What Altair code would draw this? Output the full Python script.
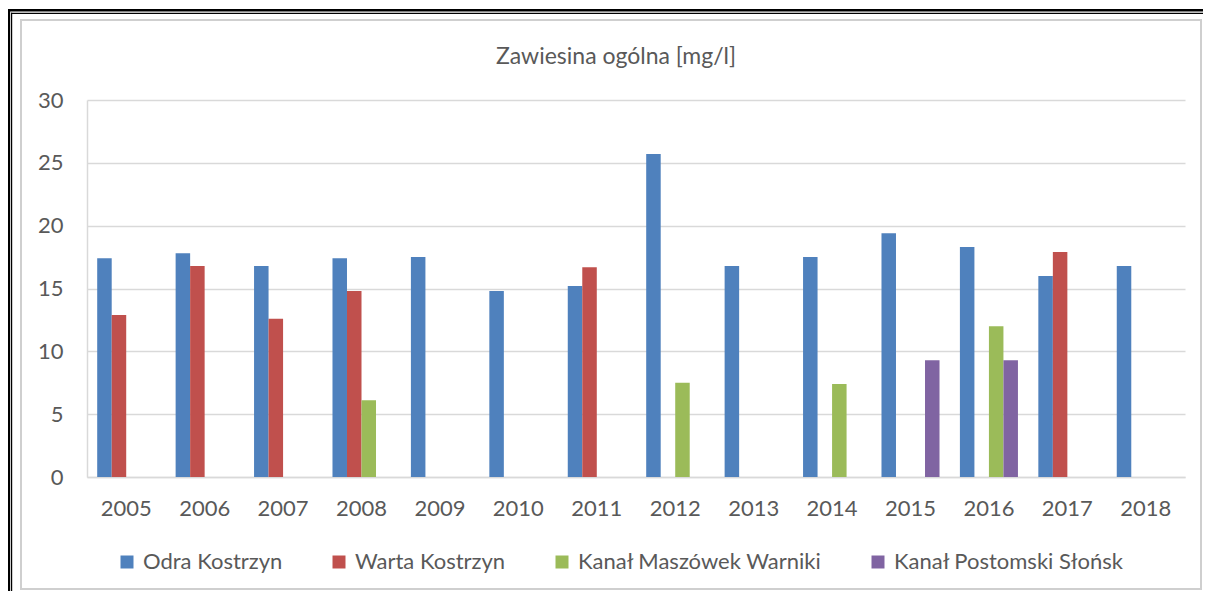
import altair as alt
import pandas as pd

years = [str(y) for y in range(2005, 2019)]
series = ["Odra Kostrzyn", "Warta Kostrzyn", "Kanał Maszówek Warniki", "Kanał Postomski Słońsk"]
odra = [17.4, 17.8, 16.8, 17.4, 17.5, 14.8, 15.2, 25.7, 16.8, 17.5, 19.4, 18.3, 16.0, 16.8]
warta = [12.9, 16.8, 12.6, 14.8, None, None, 16.7, None, None, None, None, None, 17.9, None]
maszowek = [None, None, None, 6.1, None, None, None, 7.5, None, 7.4, None, 12.0, None, None]
postomski = [None, None, None, None, None, None, None, None, None, None, 9.3, 9.3, None, None]
colors = ["#4F81BD", "#C0504D", "#9BBB59", "#8064A2"]
y_ticks = [0, 5, 10, 15, 20, 25, 30]
title_text = "Zawiesina ogólna [mg/l]"

rows = []
for name, vals in zip(series, [odra, warta, maszowek, postomski]):
    for yr, v in zip(years, vals):
        if v is not None:
            rows.append({"year": yr, "series": name, "value": v})
df = pd.DataFrame(rows)

FONT = "Lato"
TXT = "#595959"
GRID = "#D9D9D9"
FS = 22

bars = alt.Chart(df).mark_bar(stroke=None).encode(
    x=alt.X("year:N", sort=years,
            scale=alt.Scale(domain=years, paddingInner=0.26, paddingOuter=0.13),
            axis=alt.Axis(title=None, labelAngle=0, labelFontSize=FS, labelFont=FONT,
                          labelColor=TXT, ticks=False, domainColor=GRID, domainWidth=1.5,
                          labelPadding=21, grid=False)),
    xOffset=alt.XOffset("series:N", sort=series,
                        scale=alt.Scale(domain=series, paddingInner=0, paddingOuter=0)),
    y=alt.Y("value:Q",
            scale=alt.Scale(domain=[0, 30], nice=False),
            axis=alt.Axis(title=None, values=y_ticks, labelFontSize=FS, labelFont=FONT,
                          labelColor=TXT, ticks=False, domain=True, domainColor=GRID,
                          domainWidth=1.5, gridColor=GRID, gridWidth=1.5, labelPadding=24)),
    color=alt.Color("series:N", sort=series,
                    scale=alt.Scale(domain=series, range=colors),
                    legend=alt.Legend(title=None, orient="none", direction="horizontal",
                                      legendX=29, legendY=451, symbolType="square",
                                      symbolSize=169, symbolStrokeWidth=0,
                                      labelFontSize=FS, labelFont=FONT, labelColor=TXT,
                                      labelOffset=5, columnPadding=45, labelLimit=500)),
)

dummy = pd.DataFrame({"k": [0]})

def band(x, x2, y, y2, color):
    return alt.Chart(dummy).mark_rect(color=color).encode(
        x=alt.value(x), x2=alt.value(x2), y=alt.value(y), y2=alt.value(y2))

gray_frame = alt.Chart(dummy).mark_rect(fill=None, stroke="#CFCFCF", strokeWidth=2).encode(
    x=alt.value(-66), x2=alt.value(1114), y=alt.value(-80), y2=alt.value(489))

title = alt.Chart(dummy).mark_text(
    font=FONT, fontSize=FS + 1, color=TXT, align="center", baseline="alphabetic"
).encode(x=alt.value(529), y=alt.value(-36), text=alt.value(title_text))

frame = [
    gray_frame,
    band(-79, -76.8, -91, 495, "#000000"),
    band(-76, -74.8, -87.3, 495, "#000000"),
    band(-79, 1120, -91, -88.6, "#000000"),
    band(-76, 1120, -87.3, -86, "#000000"),
]

chart = alt.layer(*frame, title, bars).properties(
    width=1098,
    height=377,
    padding={"left": 79, "top": 92, "right": 18, "bottom": 114},
    autosize=alt.AutoSizeParams(type="none"),
    background="white",
).configure_view(strokeWidth=0)

chart.save("out.html", embed_options={"renderer": "svg", "actions": False})
